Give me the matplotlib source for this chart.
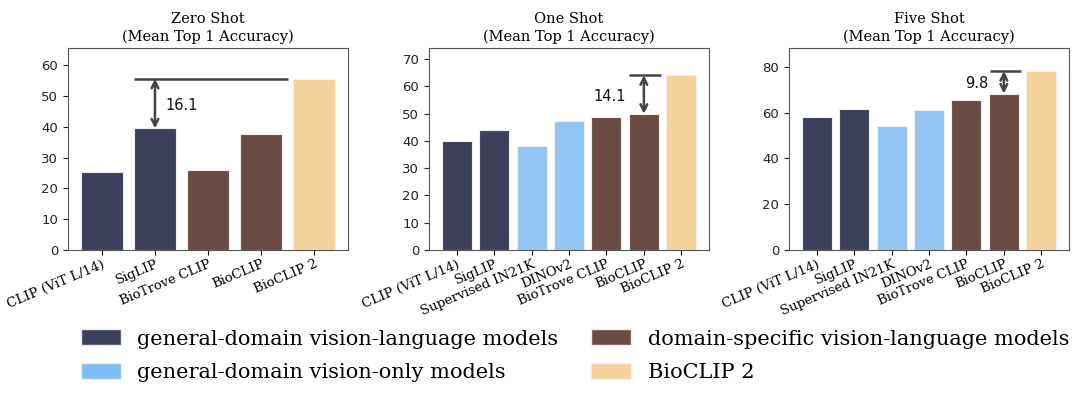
import matplotlib
matplotlib.use("Agg")
import matplotlib.pyplot as plt
from matplotlib.patches import Patch

# model groups -> colours
group_colors = {
    "gen_vl": "#3d405b",
    "gen_vo": "#92c5f2",
    "dom_vl": "#6a4c45",
    "bioclip2": "#f5d19b",
}
group_labels = {
    "gen_vl": "general-domain vision-language models",
    "gen_vo": "general-domain vision-only models",
    "dom_vl": "domain-specific vision-language models",
    "bioclip2": "BioCLIP 2",
}

# zero shot
zero_models = ["CLIP (ViT L/14)", "SigLIP", "BioTrove CLIP", "BioCLIP", "BioCLIP 2"]
zero_groups = ["gen_vl", "gen_vl", "dom_vl", "dom_vl", "bioclip2"]
zero_acc = [25.4, 39.5, 26.1, 37.6, 55.6]

# one / five shot
few_models = ["CLIP (ViT L/14)", "SigLIP", "Supervised IN21K", "DINOv2",
              "BioTrove CLIP", "BioCLIP", "BioCLIP 2"]
few_groups = ["gen_vl", "gen_vl", "gen_vo", "gen_vo", "dom_vl", "dom_vl", "bioclip2"]
one_acc = [39.8, 43.8, 38.1, 47.2, 48.8, 49.9, 64.0]
five_acc = [58.3, 61.8, 54.1, 61.1, 65.6, 68.4, 78.2]

serif = "DejaVu Serif"
gray = "#444444"

fig = plt.figure(figsize=(10.8, 3.96), dpi=100)
axes = [fig.add_axes([68 / 1080, 1 - 250 / 396, 280 / 1080, 202 / 396]),
        fig.add_axes([429 / 1080, 1 - 250 / 396, 280 / 1080, 202 / 396]),
        fig.add_axes([789 / 1080, 1 - 250 / 396, 280 / 1080, 202 / 396])]

panels = [
    ("Zero Shot", zero_models, zero_groups, zero_acc, 65.6, [0, 10, 20, 30, 40, 50, 60]),
    ("One Shot", few_models, few_groups, one_acc, 74.0, [0, 10, 20, 30, 40, 50, 60, 70]),
    ("Five Shot", few_models, few_groups, five_acc, 88.3, [0, 20, 40, 60, 80]),
]

for ax, (title, models, groups, acc, ytop, yt) in zip(axes, panels):
    x = range(len(models))
    ax.bar(x, acc, width=0.8, color=[group_colors[g] for g in groups],
           edgecolor="#eeeeee", linewidth=0.8)
    ax.set_ylim(0, ytop)
    ax.set_yticks(yt)
    ax.tick_params(axis="y", labelsize=9.5, colors="#222222")
    ax.set_xticks(list(x))
    ax.set_xticklabels(models, rotation=23, ha="right", rotation_mode="anchor",
                       fontsize=9.5, family=serif)
    ax.tick_params(axis="x", pad=2)
    for s in ax.spines.values():
        s.set_color("#555555")
    ax.set_title(title + "\n(Mean Top 1 Accuracy)", family=serif, fontsize=10.5,
                 pad=5, linespacing=1.35)

# gap annotations
def gap(ax, x_arrow, low, high, x0, x1, label, tx, ty, ha):
    ax.hlines(high, x0, x1, color=gray, lw=1.8)
    ax.annotate("", xy=(x_arrow, low), xytext=(x_arrow, high),
                arrowprops=dict(arrowstyle="<->", color=gray, lw=1.8,
                                shrinkA=0, shrinkB=0, mutation_scale=12))
    ax.text(tx, ty, label, fontsize=10.5, ha=ha, va="center", color="#111111")

gap(axes[0], 1, zero_acc[1], zero_acc[4], 0.6, 3.5,
    f"{zero_acc[4] - zero_acc[1]:.1f}", 1.2, 47.0, "left")
gap(axes[1], 5, one_acc[5], one_acc[6], 4.6, 5.45,
    f"{one_acc[6] - one_acc[5]:.1f}", 4.52, 56.3, "right")
gap(axes[2], 5, five_acc[5], five_acc[6], 4.62, 5.46,
    f"{five_acc[6] - five_acc[5]:.1f}", 4.58, 72.6, "right")

order = ["gen_vl", "gen_vo", "dom_vl", "bioclip2"]
handles = [Patch(facecolor=group_colors[k], edgecolor="#eeeeee", label=group_labels[k])
           for k in order]
handles[1].set_facecolor("#7bbef4")
fig.legend(handles=handles, loc="upper center", bbox_to_anchor=(575 / 1080, 0.216), ncol=2,
           frameon=False, prop={"family": serif, "size": 15},
           handlelength=1.92, handleheight=0.82, handletextpad=0.78,
           columnspacing=1.6, labelspacing=0.7)

fig.savefig("out.png", dpi=100)
